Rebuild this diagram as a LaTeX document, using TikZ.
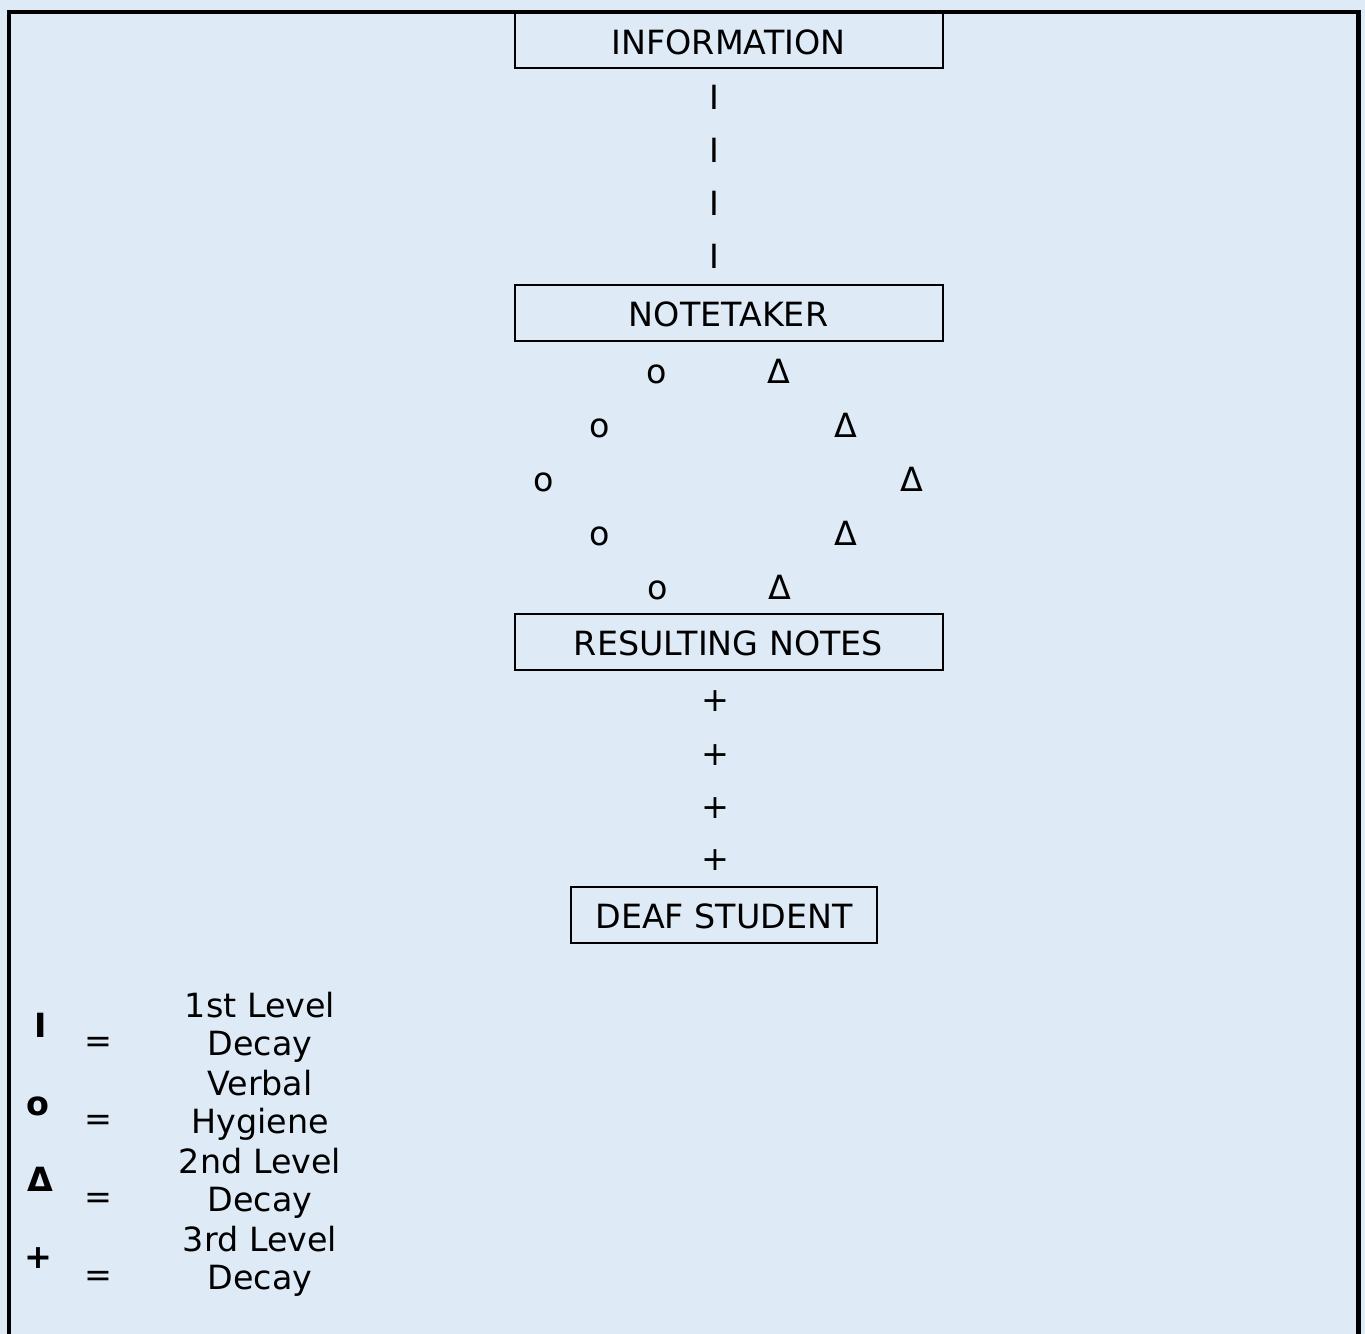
\documentclass[tikz,border=0pt]{standalone}
\usepackage{fontspec}
\setmainfont{DejaVu Sans}
\definecolor{bgblue}{HTML}{DEEAF6}
\begin{document}
\begin{tikzpicture}[x=0.75pt,y=-0.75pt,
  every node/.style={font=\fontsize{25}{30}\selectfont, inner sep=0pt},
  box/.style={draw, line width=1.5pt, fill=bgblue, minimum width=321pt, minimum height=42pt, text height=20.8pt, text depth=0pt},
  sym/.style={anchor=base},
  symc/.style={anchor=center},
  legsym/.style={anchor=base, font=\fontsize{25}{30}\selectfont\bfseries},
  legtxt/.style={anchor=base}]
\fill[bgblue] (0,0) rectangle (1365,1334);
\useasboundingbox (0,0) rectangle (1365,1334);
% boxes
\node[box] (info) at (728.5,40.5) {INFORMATION};
\node[box] (note) at (728.5,313) {NOTETAKER};
\node[box] (res) at (728.5,641.5) {RESULTING NOTES};
\node[box, minimum width=230pt] (deaf) at (724,914.5) {DEAF STUDENT};
% first level decay chain
\node[sym] (i1) at (714.5,110) {I};
\node[sym] (i2) at (714.5,163) {I};
\node[sym] (i3) at (714.5,216) {I};
\node[sym] (i4) at (714.5,269) {I};
% verbal hygiene / second level decay
\node[sym] (o1) at (657,383) {o};
\node[sym] (o2) at (599.5,437) {o};
\node[sym] (o3) at (543.5,491) {o};
\node[sym] (o4) at (599.5,545) {o};
\node[sym] (o5) at (657.5,599) {o};
\node[sym] (d1) at (779,383) {Δ};
\node[sym] (d2) at (845.5,437) {Δ};
\node[sym] (d3) at (912,491) {Δ};
\node[sym] (d4) at (845.5,545) {Δ};
\node[sym] (d5) at (779.5,599) {Δ};
% third level decay chain
\node[symc] (p1) at (715,701) {+};
\node[symc] (p2) at (715,755) {+};
\node[symc] (p3) at (715,808) {+};
\node[symc] (p4) at (715,860) {+};
% legend
\node[legsym] (li) at (40.5,1037) {I};
\node[legsym] (lo) at (38,1115) {o};
\node[legsym] (ld) at (40,1191) {Δ};
\node[legsym, anchor=center] (lp) at (38.5,1258) {+};
\node[symc] (e1) at (98.5,1045) {=};
\node[symc] (e2) at (98.5,1123) {=};
\node[symc] (e3) at (98.5,1201) {=};
\node[symc] (e4) at (98.5,1279) {=};
\node[legtxt] (t1a) at (260,1017) {1st Level};
\node[legtxt] (t1b) at (260,1055) {Decay};
\node[legtxt] (t2a) at (260,1095) {Verbal};
\node[legtxt] (t2b) at (260,1133) {Hygiene};
\node[legtxt] (t3a) at (260,1173) {2nd Level};
\node[legtxt] (t3b) at (260,1211) {Decay};
\node[legtxt] (t4a) at (260,1251) {3rd Level};
\node[legtxt] (t4b) at (260,1289) {Decay};
% outer frame
\draw[line width=3.4pt] (9,1345) -- (9,12) -- (1358.5,12) -- (1358.5,1345);
\end{tikzpicture}
\end{document}
